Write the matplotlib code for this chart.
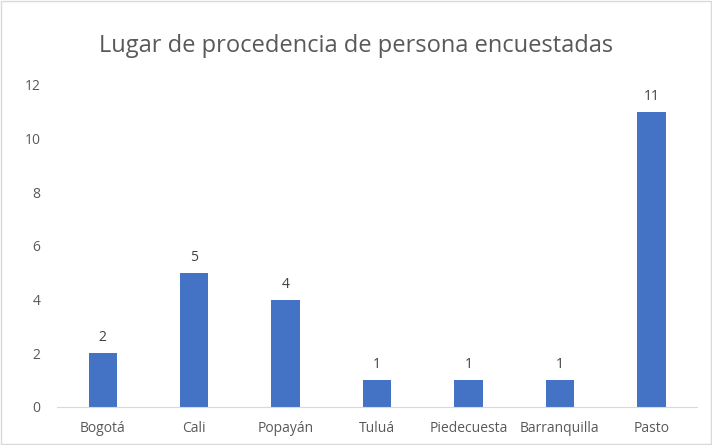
import matplotlib.pyplot as plt
import numpy as np

ciudades = ["Bogotá", "Cali", "Popayán", "Tuluá", "Piedecuesta", "Barranquilla", "Pasto"]
personas = [2, 5, 4, 1, 1, 1, 11]
yticks = [0, 2, 4, 6, 8, 10, 12]

plt.rcParams["font.family"] = ["Open Sans", "DejaVu Sans"]
gris = "#595959"

fig = plt.figure(figsize=(7.12, 4.45), dpi=100)
fig.patches.append(plt.Rectangle((0.002, 0.002), 0.996, 0.996, transform=fig.transFigure,
                                 fill=False, edgecolor="#d9d9d9", linewidth=1))
ax = fig.add_axes([0.080, 0.0854, 0.899, 0.7236])

x = np.arange(len(ciudades))
barras = ax.bar(x, personas, width=0.31, color="#4472c4")
for b, v in zip(barras, personas):
    ax.text(b.get_x() + b.get_width() / 2, v + 0.3, str(v), ha="center", va="bottom",
            fontsize=10, color="#404040")

ax.set_xlim(-0.5, len(ciudades) - 0.5)
ax.set_ylim(0, 12)
ax.set_yticks(yticks)
ax.set_xticks(x, ciudades)
ax.tick_params(axis="both", length=0, labelsize=10, colors=gris)
ax.tick_params(axis="x", pad=10)
ax.tick_params(axis="y", pad=12)
for s in ["top", "right", "left"]:
    ax.spines[s].set_visible(False)
ax.spines["bottom"].set_color("#d9d9d9")

fig.text(0.5, 0.897, "Lugar de procedencia de persona encuestadas", ha="center", va="center",
         fontsize=17, color=gris)

fig.savefig("out.png")
